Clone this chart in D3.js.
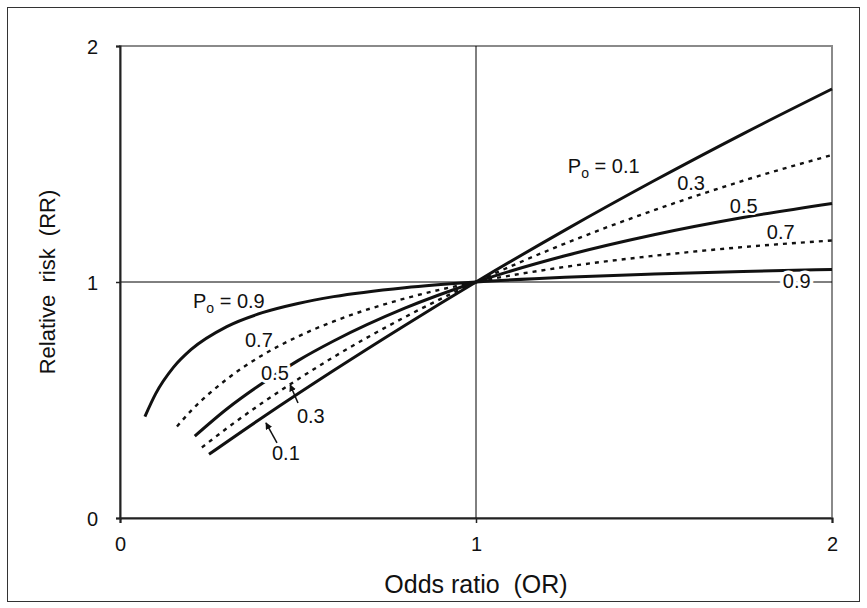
<!DOCTYPE html>
<html>
<head>
<meta charset="utf-8">
<script src="https://cdn.jsdelivr.net/npm/d3@7"></script>
<style>
  body { margin: 0; background: #fff; }
  svg text { font-family: "Liberation Sans", Arial, sans-serif; fill: #111; white-space: pre; }
</style>
</head>
<body>
<div id="chart"></div>
<script>
// axis ticks
const orTicks = [0, 1, 2];
const rrTicks = [0, 1, 2];

// curves: odds ratio -> relative risk, one pair per baseline risk P0
const or09 = [0.07, 0.1, 0.15, 0.2, 0.3, 0.4, 0.5, 0.6, 0.8, 1.0, 1.25, 1.5, 1.75, 2.0];
const rr09 = [0.43, 0.526, 0.638, 0.714, 0.811, 0.87, 0.909, 0.938, 0.976, 1.0, 1.02, 1.034, 1.045, 1.053];

const or07 = [0.16, 0.2, 0.3, 0.4, 0.5, 0.6, 0.8, 1.0, 1.25, 1.5, 1.75, 2.0];
const rr07 = [0.388, 0.455, 0.588, 0.69, 0.769, 0.833, 0.93, 1.0, 1.064, 1.111, 1.148, 1.176];

const or05 = [0.21, 0.3, 0.4, 0.5, 0.6, 0.8, 1.0, 1.25, 1.5, 1.75, 2.0];
const rr05 = [0.347, 0.462, 0.571, 0.667, 0.75, 0.889, 1.0, 1.111, 1.2, 1.273, 1.333];

const or03 = [0.23, 0.3, 0.4, 0.5, 0.6, 0.8, 1.0, 1.25, 1.5, 1.75, 2.0];
const rr03 = [0.299, 0.38, 0.488, 0.588, 0.682, 0.851, 1.0, 1.163, 1.304, 1.429, 1.538];

const or01 = [0.25, 0.4, 0.6, 0.8, 1.0, 1.25, 1.5, 1.75, 2.0];
const rr01 = [0.27, 0.426, 0.625, 0.816, 1.0, 1.22, 1.429, 1.628, 1.818];

const p0Levels = ["0.9", "0.7", "0.5", "0.3", "0.1"];

const width = 867, height = 608;
const margin = { top: 46, right: 35, bottom: 90, left: 120 };

const svg = d3.select("#chart")
  .append("svg")
  .attr("width", width)
  .attr("height", height);

// outer frame
svg.append("rect")
  .attr("x", 7.5).attr("y", 7.5)
  .attr("width", 852).attr("height", 594)
  .attr("fill", "none")
  .attr("stroke", "#333")
  .attr("stroke-width", 1);

const x = d3.scaleLinear()
  .domain([0, 2])
  .range([margin.left, width - margin.right]);

const y = d3.scaleLinear()
  .domain([0, 2])
  .range([height - margin.bottom, margin.top]);

// plot area border (grey, Excel style)
svg.append("rect")
  .attr("x", x(0)).attr("y", y(2))
  .attr("width", x(2) - x(0)).attr("height", y(0) - y(2))
  .attr("fill", "none")
  .attr("stroke", "#8a8a8a")
  .attr("stroke-width", 2);

// reference lines at OR = 1 and RR = 1
svg.append("line")
  .attr("x1", x(1)).attr("x2", x(1))
  .attr("y1", y(0)).attr("y2", y(2))
  .attr("stroke", "#000").attr("stroke-width", 1);

svg.append("line")
  .attr("x1", x(0)).attr("x2", x(2))
  .attr("y1", y(1)).attr("y2", y(1))
  .attr("stroke", "#000").attr("stroke-width", 1);

// axes
const xAxis = svg.append("g")
  .attr("transform", `translate(0,${y(0)})`)
  .call(d3.axisBottom(x).tickValues(orTicks).tickFormat(d3.format("d")).tickSize(5).tickPadding(16));

const yAxis = svg.append("g")
  .attr("transform", `translate(${x(0)},0)`)
  .call(d3.axisLeft(y).tickValues(rrTicks).tickFormat(d3.format("d")).tickSize(4).tickPadding(18));

[xAxis, yAxis].forEach(a => {
  a.select(".domain").attr("stroke", "#222").attr("stroke-width", 2);
  a.selectAll(".tick line").attr("stroke", "#222").attr("stroke-width", 1.5);
  a.selectAll(".tick text")
    .attr("fill", "#111")
    .style("font-family", "Liberation Sans, Arial, sans-serif")
    .style("font-size", "20px");
});
yAxis.selectAll(".tick text").attr("dy", "0.36em");
xAxis.selectAll(".tick text").attr("dy", "0.6em");

// curves
const series = [
  { p: p0Levels[0], or: or09, rr: rr09, dashed: false },
  { p: p0Levels[1], or: or07, rr: rr07, dashed: true },
  { p: p0Levels[2], or: or05, rr: rr05, dashed: false },
  { p: p0Levels[3], or: or03, rr: rr03, dashed: true },
  { p: p0Levels[4], or: or01, rr: rr01, dashed: false },
];

const line = d3.line()
  .x(d => x(d[0]))
  .y(d => y(d[1]))
  .curve(d3.curveMonotoneX);

series.forEach(s => {
  svg.append("path")
    .datum(d3.zip(s.or, s.rr))
    .attr("fill", "none")
    .attr("stroke", "#111")
    .attr("stroke-width", s.dashed ? 2.4 : 3)
    .attr("stroke-dasharray", s.dashed ? "4,5" : null)
    .attr("d", line);
});

// arrow marker
svg.append("defs").append("marker")
  .attr("id", "arrow")
  .attr("viewBox", "0 0 10 10")
  .attr("refX", 9).attr("refY", 5)
  .attr("markerWidth", 7).attr("markerHeight", 7)
  .attr("markerUnits", "userSpaceOnUse")
  .attr("orient", "auto")
  .append("path")
  .attr("d", "M0,0L10,5L0,10z")
  .attr("fill", "#111");

const arrows = [
  { from: [0.5, 0.487], to: [0.478, 0.564] },
  { from: [0.441, 0.318], to: [0.41, 0.403] },
];

arrows.forEach(a => {
  svg.append("line")
    .attr("x1", x(a.from[0])).attr("y1", y(a.from[1]))
    .attr("x2", x(a.to[0])).attr("y2", y(a.to[1]))
    .attr("stroke", "#111")
    .attr("stroke-width", 1.5)
    .attr("marker-end", "url(#arrow)");
});

// curve labels (position in data units), white halo masks the line below
const labels = [
  { or: 0.205, rr: 0.89, p0: true, text: p0Levels[0], halo: 2 },
  { or: 0.351, rr: 0.725, text: p0Levels[1], halo: 6 },
  { or: 0.396, rr: 0.585, text: p0Levels[2], halo: 6 },
  { or: 0.497, rr: 0.403, text: p0Levels[3], halo: 4 },
  { or: 0.427, rr: 0.246, text: p0Levels[4], halo: 4 },
  { or: 1.258, rr: 1.462, p0: true, text: p0Levels[4], halo: 4 },
  { or: 1.565, rr: 1.39, text: p0Levels[3], halo: 4 },
  { or: 1.713, rr: 1.292, text: p0Levels[2], halo: 4 },
  { or: 1.817, rr: 1.182, text: p0Levels[1], halo: 4 },
  { or: 1.862, rr: 0.975, text: p0Levels[0], halo: 7 },
];

labels.forEach(l => {
  const t = svg.append("text")
    .attr("x", x(l.or))
    .attr("y", y(l.rr))
    .style("font-size", "20px")
    .attr("stroke", "#fff")
    .attr("stroke-width", l.halo)
    .attr("stroke-linejoin", "round")
    .style("paint-order", "stroke");
  if (l.p0) {
    t.append("tspan").text("P");
    t.append("tspan").attr("dy", 5).style("font-size", "14px").text("o");
    t.append("tspan").attr("dy", -5).text(" = " + l.text);
  } else {
    t.text(l.text);
  }
});

// axis titles
svg.append("text")
  .attr("x", (x(0) + x(2)) / 2)
  .attr("y", 593)
  .attr("text-anchor", "middle")
  .style("font-size", "25px")
  .text("Odds ratio  (OR)");

svg.append("text")
  .attr("transform", `translate(55,${y(1)}) rotate(-90)`)
  .attr("text-anchor", "middle")
  .style("font-size", "22px")
  .text("Relative  risk  (RR)");
</script>
</body>
</html>
